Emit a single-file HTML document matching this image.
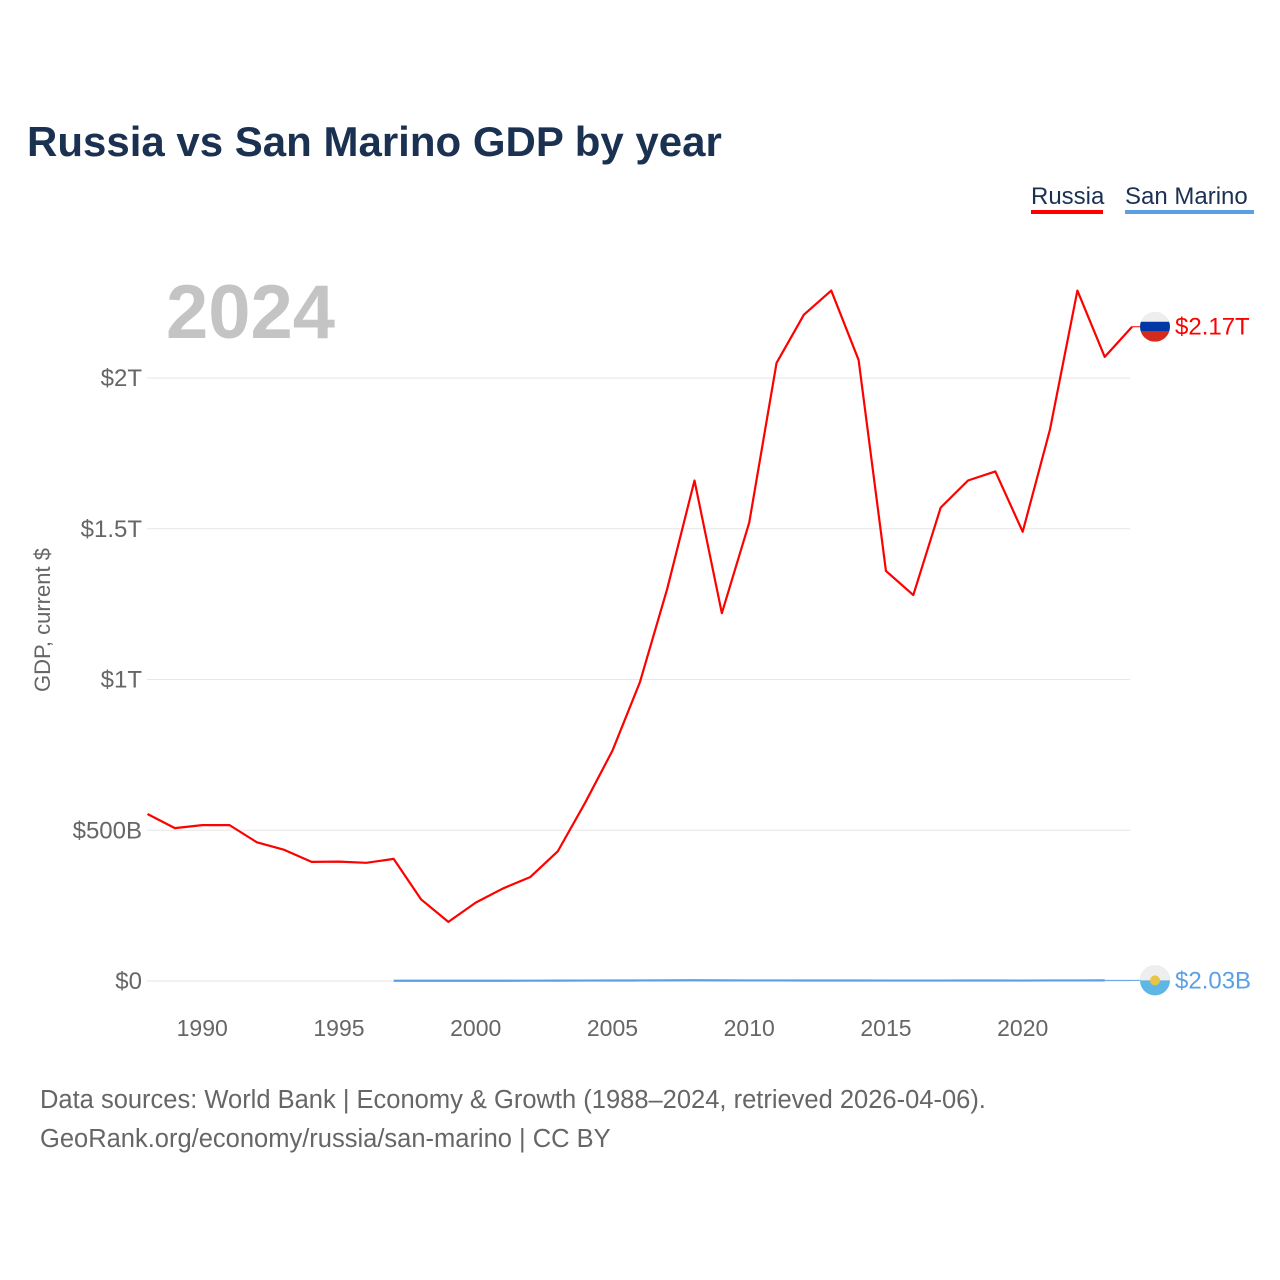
<!DOCTYPE html>
<html><head><meta charset="utf-8">
<style>
body{margin:0;background:#fff;font-family:"Liberation Sans",sans-serif;}
#wrap{position:relative;width:1280px;height:1280px;overflow:hidden;}
</style></head>
<body>
<div id="wrap">
<svg id="chart" width="1280" height="1280">
<defs>
<clipPath id="rc"><circle cx="1155" cy="324" r="15"/></clipPath>
</defs>
<text x="27" y="156" font-size="42" font-weight="bold" fill="#1b3152">Russia vs San Marino GDP by year</text>
<g>
<text x="1031" y="204" font-size="24" fill="#1b3152">Russia</text>
<rect x="1031" y="210" width="72" height="4" fill="#ff0000"/>
</g>
<g>
<text x="1125" y="204" font-size="24" fill="#1b3152">San Marino</text>
<rect x="1125" y="210" width="129" height="4" fill="#5aa0e6"/>
</g>
<text x="166" y="338" font-size="76" font-weight="bold" fill="#c4c4c4">2024</text>
<text transform="translate(50,620) rotate(-90)" text-anchor="middle" font-size="22" fill="#666">GDP, current $</text>
<g id="grid"></g><g id="xt"></g><g id="series"></g>
<text x="40" y="1108" font-size="25.5" fill="#666">Data sources: World Bank | Economy &amp; Growth (1988–2024, retrieved 2026-04-06).</text>
<text x="40" y="1147" font-size="25.5" fill="#666">GeoRank.org/economy/russia/san-marino | CC BY</text>
</svg>
</div>
<script>
const yTicks=[0,0.5,1,1.5,2];
const yTickLabels=["$0","$500B","$1T","$1.5T","$2T"];
const xTicks=[1990,1995,2000,2005,2010,2015,2020];
const russiaYears=[1988,1989,1990,1991,1992,1993,1994,1995,1996,1997,1998,1999,2000,2001,2002,2003,2004,2005,2006,2007,2008,2009,2010,2011,2012,2013,2014,2015,2016,2017,2018,2019,2020,2021,2022,2023,2024];
const russiaValues=[0.554,0.507,0.517,0.517,0.460,0.435,0.395,0.396,0.392,0.405,0.271,0.196,0.260,0.307,0.345,0.430,0.591,0.764,0.99,1.30,1.66,1.22,1.52,2.05,2.21,2.29,2.06,1.36,1.28,1.57,1.66,1.69,1.49,1.83,2.29,2.07,2.17];
const smYears=[1997,1998,1999,2000,2001,2002,2003,2004,2005,2006,2007,2008,2009,2010,2011,2012,2013,2014,2015,2016,2017,2018,2019,2020,2021,2022,2023];
const smValues=[0.0009,0.0009,0.0009,0.0008,0.0009,0.0010,0.0013,0.0015,0.0016,0.0018,0.0021,0.0024,0.0021,0.0019,0.0019,0.0016,0.0016,0.0016,0.0014,0.0014,0.0015,0.0016,0.0016,0.0015,0.0018,0.0018,0.0020];
const X=y=>147.5+(y-1988)*27.35;
const Y=v=>981-v*301.5;
const NS="http://www.w3.org/2000/svg";
function mk(tag,attrs,parent){const e=document.createElementNS(NS,tag);for(const k in attrs)e.setAttribute(k,attrs[k]);parent.appendChild(e);return e;}
const grid=document.getElementById('grid');
yTicks.forEach((t,i)=>{
 const l=mk('line',{x1:147,x2:1130,y1:Y(t),y2:Y(t),stroke:'#e6e6e6','stroke-width':1},grid);
 
 
 const tx=mk('text',{x:142,y:Y(t)+8,'text-anchor':'end','font-size':24,fill:'#666'},grid);
 tx.textContent=yTickLabels[i];
 
 
});
const xt=document.getElementById('xt');
xTicks.forEach(t=>{
 const tx=mk('text',{x:X(t),y:1036,'text-anchor':'middle','font-size':23,fill:'#666'},xt);
 tx.textContent=t;
 
 
});
const s=document.getElementById('series');
const rp=russiaYears.map((y,i)=>X(y)+','+Y(russiaValues[i])).join(' ');
const rl=mk('polyline',{points:rp,fill:'none',stroke:'#ff0000','stroke-width':2.2,'stroke-linejoin':'round'},s);


const sp=smYears.map((y,i)=>X(y)+','+Y(smValues[i])).join(' ');
const sl=mk('polyline',{points:sp,fill:'none',stroke:'#5aa0e6','stroke-width':2.2},s);


const rEndY=Y(russiaValues[russiaValues.length-1]);
mk('line',{x1:X(2024),x2:1140,y1:rEndY,y2:rEndY,stroke:'#ff0000','stroke-width':1},s);
document.querySelector('#rc circle').setAttribute('cy',rEndY);
const rf=mk('g',{'clip-path':'url(#rc)'},s);


mk('rect',{x:1140,y:rEndY-15,width:30,height:10,fill:'#eeeeee'},rf);
mk('rect',{x:1140,y:rEndY-5,width:30,height:10,fill:'#0039a6'},rf);
mk('rect',{x:1140,y:rEndY+5,width:30,height:10,fill:'#d52b1e'},rf);
const rt=mk('text',{x:1175,y:rEndY+8,'font-size':24,fill:'#ff0000'},s);
rt.textContent='$2.17T';


const sEndY=Y(smValues[smValues.length-1]);
mk('line',{x1:X(2023),x2:1140,y1:sEndY,y2:sEndY,stroke:'#5aa0e6','stroke-width':1},s);
const sf=mk('g',{},s);


mk('circle',{cx:1155,cy:sEndY,r:15,fill:'#5eb6e4'},sf);
mk('path',{d:`M1140,${sEndY} A15,15 0 0 1 1170,${sEndY} Z`,fill:'#eee'},sf);
mk('circle',{cx:1155,cy:sEndY,r:5,fill:'#e8c547'},sf);
const st=mk('text',{x:1175,y:sEndY+8,'font-size':24,fill:'#5aa0e6'},s);
st.textContent='$2.03B';


</script>
</body></html>
